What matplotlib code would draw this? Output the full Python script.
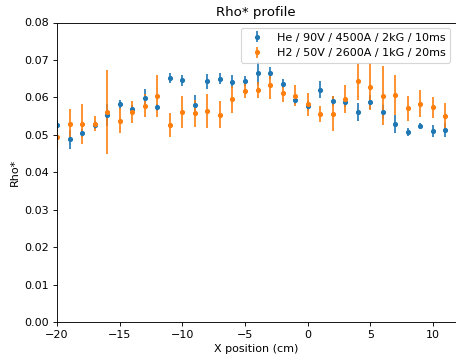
import matplotlib
matplotlib.use("Agg")
import matplotlib.pyplot as plt

# posizioni (cm)
x_pos = list(range(-20, 12))

# He / 90V / 4500A / 2kG / 10ms
he_rho = [0.0525, 0.0488, 0.0505, 0.0526, 0.0553, 0.0581, 0.0570, 0.0599,
          0.0573, 0.0652, 0.0646, 0.0580, 0.0643, 0.0650, 0.0642, 0.0643,
          0.0664, 0.0666, 0.0636, 0.0594, 0.0578, 0.0620, 0.0591, 0.0587,
          0.0561, 0.0587, 0.0561, 0.0529, 0.0507, 0.0524, 0.0511, 0.0513]
he_err = [0.0015, 0.0025, 0.0010, 0.0010, 0.0029, 0.0012, 0.0010, 0.0023,
          0.0010, 0.0013, 0.0015, 0.0027, 0.0020, 0.0015, 0.0018, 0.0013,
          0.0030, 0.0016, 0.0012, 0.0012, 0.0013, 0.0023, 0.0013, 0.0013,
          0.0024, 0.0019, 0.0019, 0.0023, 0.0010, 0.0007, 0.0016, 0.0018]

# H2 / 50V / 2600A / 1kG / 20ms
h2_rho = [0.0494, 0.0529, 0.0529, 0.0529, 0.0561, 0.0538, 0.0561, 0.0578,
          0.0604, 0.0526, 0.0562, 0.0557, 0.0564, 0.0554, 0.0595, 0.0618,
          0.0620, 0.0632, 0.0613, 0.0605, 0.0582, 0.0556, 0.0556, 0.0596,
          0.0643, 0.0629, 0.0604, 0.0607, 0.0571, 0.0583, 0.0573, 0.0551]
h2_err = [0.0030, 0.0039, 0.0053, 0.0020, 0.0113, 0.0033, 0.0029, 0.0031,
          0.0056, 0.0031, 0.0043, 0.0037, 0.0046, 0.0037, 0.0036, 0.0021,
          0.0021, 0.0037, 0.0025, 0.0029, 0.0031, 0.0021, 0.0047, 0.0037,
          0.0049, 0.0063, 0.0079, 0.0053, 0.0033, 0.0036, 0.0027, 0.0033]

dpi = 80
fig = plt.figure(figsize=(456 / dpi, 362 / dpi), dpi=dpi)
ax = fig.add_axes([57 / 456, 1 - 322 / 362, (455.5 - 57) / 456, (322 - 22.5) / 362])

ax.errorbar(x_pos, he_rho, yerr=he_err, fmt='o', ms=3.6,
            label='He / 90V / 4500A / 2kG / 10ms')
ax.errorbar(x_pos, h2_rho, yerr=h2_err, fmt='o', ms=3.6,
            label='H2 / 50V / 2600A / 1kG / 20ms')

ax.set_xlim(-20, 11.8)
ax.set_ylim(0, 0.08)
ax.set_xlabel('X position (cm)')
ax.set_ylabel('Rho*')
ax.set_title('Rho* profile')
ax.legend(loc='upper right')

fig.savefig('out.png', dpi=dpi)
